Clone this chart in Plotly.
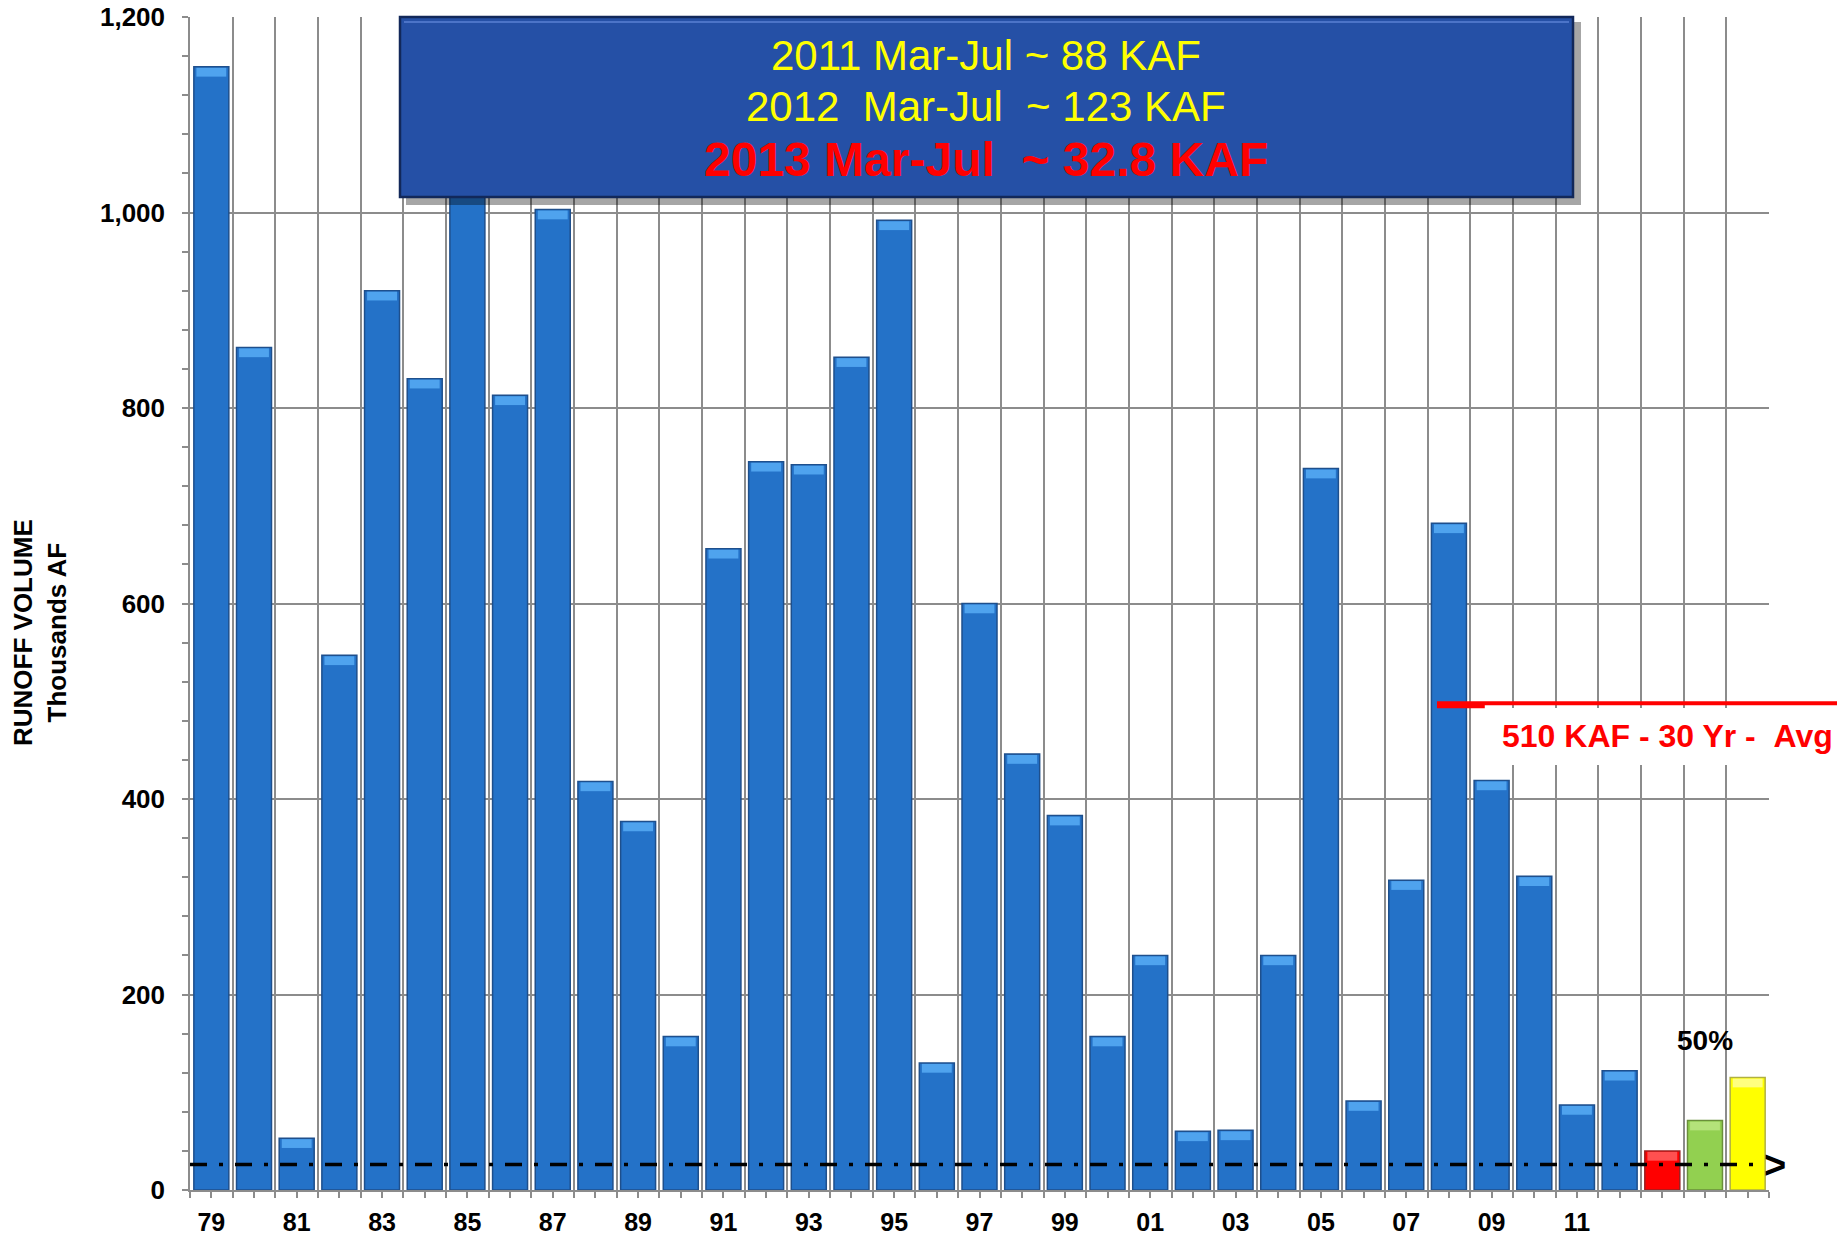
import plotly.graph_objects as go

# ---------------- data ----------------
years = ["79", "80", "81", "82", "83", "84", "85", "86", "87", "88", "89",
         "90", "91", "92", "93", "94", "95", "96", "97", "98", "99",
         "00", "01", "02", "03", "04", "05", "06", "07", "08", "09",
         "10", "11", "12", "fcst_min", "fcst_50", "fcst_max"]
runoff_kaf = [1149, 862, 53, 547, 920, 830, 1050, 813, 1003, 418, 377,
              157, 656, 745, 742, 852, 992, 130, 600, 446, 383,
              157, 240, 60, 61, 240, 738, 91, 317, 682, 419,
              321, 87, 122, 40, 71, 115]
tick_labels = ["79", "", "81", "", "83", "", "85", "", "87", "", "89", "",
               "91", "", "93", "", "95", "", "97", "", "99", "", "01", "",
               "03", "", "05", "", "07", "", "09", "", "11", "", "", "", ""]
avg_line_kaf = 498      # drawn position of the 30-yr average line
base_line_kaf = 26      # dash-dot reference line
info_lines = ["2011 Mar-Jul ~ 88 KAF", "2012  Mar-Jul  ~ 123 KAF", "2013 Mar-Jul  ~ 32.8 KAF"]
avg_label = "510 KAF - 30 Yr -  Avg"
pct_label = "50%"
pct_value = 153

# ---------------- layout helpers ----------------
W, H = 1845, 1236
L, R, T, B = 190, 76, 17, 46
PW, PH = W - L - R, H - T - B
N = len(runoff_kaf)
idx = list(range(N))

def px_x(p):
    return (p - L) / PW

def px_y(p):
    return (H - B - p) / PH

def cat_x(c):
    return (c + 0.5) / N

BLUE = "#2472C8"
colors = [BLUE] * 34 + ["#FF0000", "#92D050", "#FFFF00"]
caps = ["#4FA3EE"] * 34 + ["#FF5050", "#B4E27A", "#FFFF80"]
edge = ["#1E4F8C"] * 34 + ["#9a2020", "#6a8f3a", "#b0b040"]
FONT = "Liberation Sans, Arial, sans-serif"
GRID = "#8C8C8C"
CAP = 9  # bevel cap height in KAF units (visual only)

fig = go.Figure()
fig.add_trace(go.Bar(
    x=idx, y=runoff_kaf,
    marker=dict(color=colors, line=dict(color=edge, width=1.5)),
    width=0.82, showlegend=False, hoverinfo="y",
))
# light bevel cap on top of each bar
fig.add_trace(go.Bar(
    x=idx, y=[CAP] * N, base=[v - CAP - 1 for v in runoff_kaf],
    marker=dict(color=caps, line=dict(width=0)),
    width=0.70, showlegend=False, hoverinfo="skip",
))

shapes = []
# dash-dot baseline
shapes.append(dict(type="line", xref="paper", yref="y", x0=0, x1=px_x(1762),
                   y0=base_line_kaf, y1=base_line_kaf,
                   line=dict(color="black", width=3.5, dash="17px,12px,4px,12px"), layer="above"))
# white box behind avg label
shapes.append(dict(type="rect", xref="paper", yref="paper", x0=px_x(1478), x1=px_x(1845),
                   y0=px_y(765), y1=px_y(708), fillcolor="white", line=dict(width=0), layer="above"))
# avg line
shapes.append(dict(type="line", xref="paper", yref="y", x0=cat_x(28.72), x1=px_x(1837),
                   y0=avg_line_kaf, y1=avg_line_kaf, line=dict(color="#FF0000", width=4), layer="above"))
shapes.append(dict(type="line", xref="paper", yref="y", x0=cat_x(28.72), x1=cat_x(29.84),
                   y0=avg_line_kaf - 3, y1=avg_line_kaf - 3, line=dict(color="#FF0000", width=4), layer="above"))
# info box shadow + box
shapes.append(dict(type="rect", xref="paper", yref="paper", x0=px_x(406), x1=px_x(1581),
                   y0=px_y(205), y1=px_y(22), fillcolor="rgba(0,0,0,0.35)", line=dict(width=0), layer="above"))
shapes.append(dict(type="rect", xref="paper", yref="paper", x0=px_x(400), x1=px_x(1573),
                   y0=px_y(197), y1=px_y(17), fillcolor="#2550A6",
                   line=dict(color="#12285a", width=2.5), layer="above"))
shapes.append(dict(type="line", xref="paper", yref="paper", x0=px_x(404), x1=px_x(1569),
                   y0=px_y(22), y1=px_y(22), line=dict(color="#4C74C8", width=2), layer="above"))

annotations = []
ys = [55, 107, 159]
sizes = [42, 42, 48]
for i, (txt, yy, sz) in enumerate(zip(info_lines, ys, sizes)):
    red = i == 2
    annotations.append(dict(
        xref="paper", yref="paper", x=px_x(986), y=px_y(yy), showarrow=False,
        text=txt.replace("  ", " &nbsp;"),
        font=dict(family=FONT, size=sz, color="#FF0000" if red else "#FFFF00",
                  weight="bold" if red else "normal"),
        xanchor="center", yanchor="middle"))
annotations.append(dict(xref="paper", yref="paper", x=px_x(1667), y=px_y(736), showarrow=False,
                        text=avg_label.replace("  ", " &nbsp;"),
                        font=dict(family=FONT, size=32, color="#FF0000", weight="bold"),
                        xanchor="center", yanchor="middle"))
annotations.append(dict(xref="x", yref="y", x=35, y=pct_value, showarrow=False, text=pct_label,
                        font=dict(family=FONT, size=28, color="black", weight="bold"),
                        xanchor="center", yanchor="middle"))
annotations.append(dict(xref="paper", yref="y", x=px_x(1775), y=base_line_kaf, showarrow=False,
                        text="&gt;", font=dict(family=FONT, size=38, color="black", weight="bold"),
                        xanchor="center", yanchor="middle"))
annotations.append(dict(xref="paper", yref="paper", x=px_x(40), y=px_y(633), showarrow=False,
                        text="RUNOFF VOLUME<br>Thousands AF", textangle=-90,
                        font=dict(family=FONT, size=26, color="black", weight="bold"),
                        xanchor="center", yanchor="middle"))

fig.update_layout(
    width=W, height=H,
    margin=dict(l=L, r=R, t=T, b=B, autoexpand=False),
    paper_bgcolor="white", plot_bgcolor="white",
    bargap=0.18, barmode="overlay",
    shapes=shapes, annotations=annotations,
    xaxis=dict(
        range=[-0.5, N - 0.5], tickmode="array", tickvals=idx, ticktext=tick_labels,
        showgrid=False, ticks="outside", ticklen=6, tickcolor=GRID, tickwidth=1.5,
        showline=True, linecolor=GRID, linewidth=1.5, zeroline=False,
        tickfont=dict(family=FONT, size=25, color="black", weight="bold"),
        ticklabelstandoff=3,
        minor=dict(tickmode="array", tickvals=[i - 0.5 for i in range(N + 1)],
                   showgrid=True, gridcolor=GRID, gridwidth=1.5,
                   ticks="outside", ticklen=6, tickcolor=GRID, tickwidth=1.5),
    ),
    yaxis=dict(
        range=[0, 1200], tickmode="array", tickvals=[0, 200, 400, 600, 800, 1000, 1200],
        tickformat=",d", showgrid=True, gridcolor=GRID, gridwidth=1.5,
        ticks="outside", ticklen=6, tickcolor=GRID, tickwidth=1.5,
        showline=True, linecolor=GRID, linewidth=1.5, zeroline=False,
        tickfont=dict(family=FONT, size=26, color="black", weight="bold"),
        ticklabelstandoff=12,
        minor=dict(dtick=40, tick0=0, ticks="outside", ticklen=6, tickcolor=GRID, tickwidth=1.5, showgrid=False),
    ),
)

fig.write_html("out.html", config={"displayModeBar": False},
               post_script="document.body.style.margin='0px';document.body.style.overflow='hidden';")
